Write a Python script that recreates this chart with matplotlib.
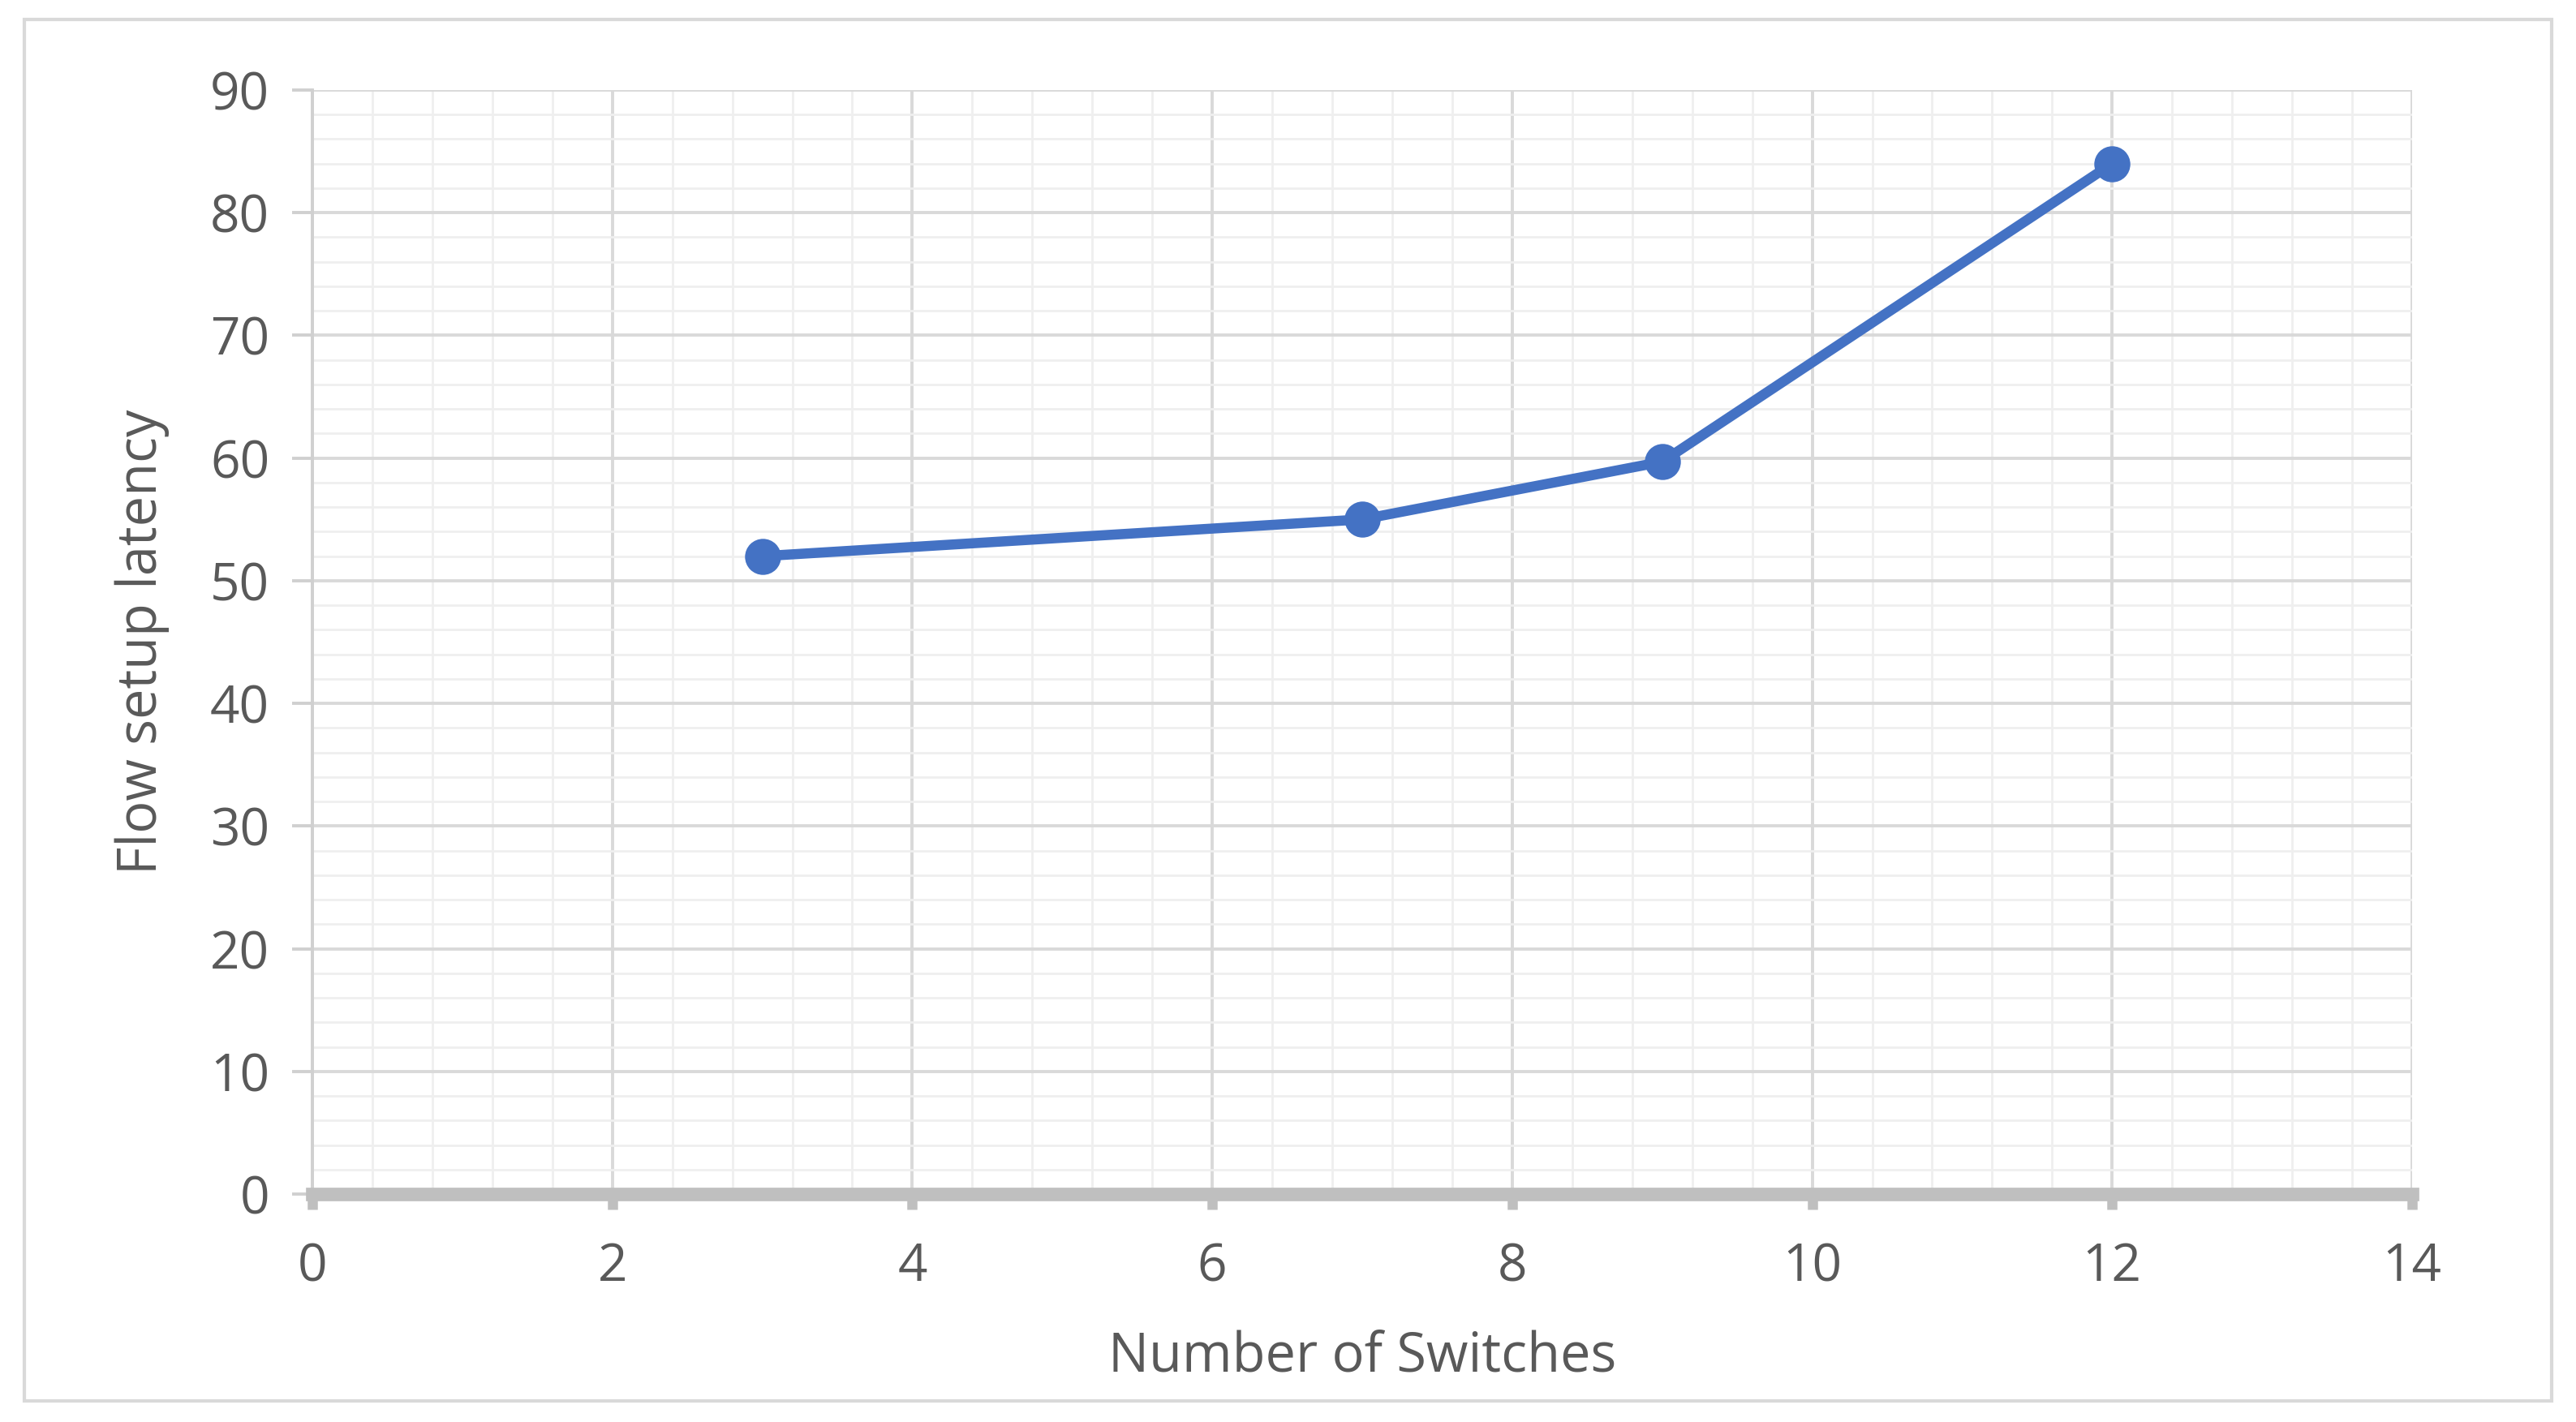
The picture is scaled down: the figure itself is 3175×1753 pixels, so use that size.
import numpy as np
import matplotlib.pyplot as plt
from matplotlib.patches import Rectangle
from matplotlib.ticker import MultipleLocator

switches = [3, 7, 9, 12]
latency = [52, 55, 59.7, 84]

plt.rcParams['font.family'] = ['Open Sans', 'DejaVu Sans']

fig = plt.figure(figsize=(15.875, 8.765), dpi=200)
ax = fig.add_axes([385 / 3175, 1 - 1472 / 1753, (2973 - 385) / 3175, (1472 - 111) / 1753])

# outer chart frame
fig.patches.append(Rectangle((30 / 3175, 1 - 1727 / 1753), 3115 / 3175, 1703 / 1753,
                             transform=fig.transFigure, fill=False,
                             edgecolor='#d9d9d9', linewidth=1.5))

ax.plot(switches, latency, color='#4472C4', linewidth=4.5, marker='o',
        markersize=15, zorder=5, clip_on=False)

ax.set_xlim(0, 14)
ax.set_ylim(0, 90)
ax.xaxis.set_major_locator(MultipleLocator(2))
ax.xaxis.set_minor_locator(MultipleLocator(0.4))
ax.yaxis.set_major_locator(MultipleLocator(10))
ax.yaxis.set_minor_locator(MultipleLocator(2))

ax.grid(which='major', color='#d9d9d9', linewidth=1.4)
ax.grid(which='minor', color='#efefef', linewidth=1.0)
ax.set_axisbelow(True)

for s in ['top', 'right']:
    ax.spines[s].set_visible(False)
ax.spines['left'].set_color('#d0d0d0')
ax.spines['left'].set_linewidth(1.4)
ax.spines['bottom'].set_color('#bfbfbf')
ax.spines['bottom'].set_linewidth(6)

ax.tick_params(axis='x', which='major', length=7, width=4.5, color='#bfbfbf',
               labelsize=23, labelcolor='#595959', pad=14)
ax.tick_params(axis='y', which='major', length=9, width=1.4, color='#d0d0d0',
               labelsize=23, labelcolor='#595959', pad=10)
ax.tick_params(which='minor', length=0)

ax.set_xlabel('Number of Switches', fontsize=24, color='#595959', labelpad=16)
ax.set_ylabel('Flow setup latency', fontsize=24, color='#595959', labelpad=18)

fig.savefig('out.png', dpi=200, facecolor='white')
